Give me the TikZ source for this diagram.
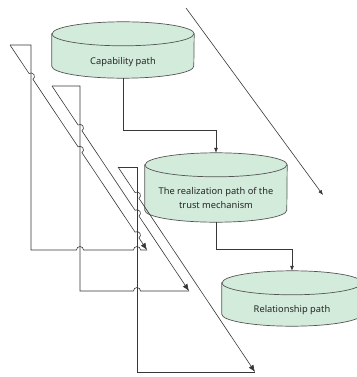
\documentclass[tikz,border=0pt]{standalone}
\usepackage{fontspec}
\setmainfont{Noto Sans}
\usetikzlibrary{arrows.meta,calc}

\definecolor{cylgreen}{RGB}{211,235,219}
\definecolor{edgegray}{RGB}{85,85,85}
\definecolor{linegray}{RGB}{55,55,55}

\tikzset{
  cylbox/.style={inner sep=0pt, draw=none},
  cyltext/.style={font=\fontsize{9.3}{14}\selectfont, text=black!85, align=center},
  cylshape/.style={fill=cylgreen, draw=edgegray, line width=0.7pt},
  link/.style={draw=linegray, line width=0.6pt},
  tip/.style={-{Latex[length=5pt,width=4pt]}},
  bigtip/.style={-{Latex[length=7pt,width=5.5pt]}},
}

% cylinder outline around an invisible box node: #1 node name, #2 x radius (pt)
\newcommand\cylinderat[2]{%
  \filldraw[cylshape] ([yshift=-12pt]#1.north west) -- ([yshift=12pt]#1.south west)
    arc[start angle=180, end angle=360, x radius=#2pt, y radius=12pt]
    -- ([yshift=-12pt]#1.north east)
    arc[start angle=0, end angle=180, x radius=#2pt, y radius=12pt] -- cycle;
  \draw[cylshape, fill=none] ([yshift=-12pt]#1.north west)
    arc[start angle=180, end angle=360, x radius=#2pt, y radius=12pt];
}

\begin{document}
\begin{tikzpicture}[x=1pt, y=-1pt]
  \useasboundingbox (0,0) rectangle (356,377);

  % cylinder boxes
  \node[cylbox, minimum width=142pt, minimum height=56pt] (cap)  at (123,50)   {};
  \node[cylbox, minimum width=142pt, minimum height=69pt] (real) at (216,187.5) {};
  \node[cylbox, minimum width=140pt, minimum height=55pt] (rel)  at (292,298.5) {};

  \cylinderat{cap}{71}
  \cylinderat{real}{71}
  \cylinderat{rel}{70}

  \node[cyltext] (cap-label)  at (123,62)  {Capability path};
  \node[cyltext] (real-label) at (216,198) {The realization path of the\\trust mechanism};
  \node[cyltext] (rel-label)  at (292,310) {Relationship path};

  % connectors between the cylinders
  \draw[link, tip] (cap.south) -- ++(0,52) -| (real.north);
  \draw[link, tip] (real.south) -- ++(0,27) -| (rel.north);

  % long diagonal arrow
  \coordinate (farstart) at (186,8);
  \coordinate (farend)   at (323,195);
  \draw[link, tip] (farstart) -- (farend);

  % corner points of the three bracket connectors
  \coordinate (aTL) at (10,45);   \coordinate (aTR) at (31,45);
  \coordinate (aBL) at (31,250);  \coordinate (aTip) at (147,250);
  \coordinate (bTL) at (52,86);   \coordinate (bTR) at (80,86);
  \coordinate (bBL) at (80,291);  \coordinate (bTip) at (189,291);
  \coordinate (cTL) at (118,167); \coordinate (cTR) at (137,167);
  \coordinate (cBL) at (137,372); \coordinate (cTip) at (255,372);

  % crossings of the diagonals with the verticals
  \coordinate (hA1) at (intersection of aTL--aTip and aTR--aBL);
  \coordinate (hA2) at (intersection of aTL--aTip and bTR--bBL);
  \coordinate (hA3) at (intersection of aTL--aTip and cTR--cBL);
  \coordinate (hB1) at (intersection of bTL--bTip and bTR--bBL);
  \coordinate (hB2) at (intersection of bTL--bTip and cTR--cBL);
  \coordinate (hC1) at (intersection of cTL--cTip and cTR--cBL);

  % bracket A
  \draw[link] (aTL) -- (aTR) -- (aBL)
    -- ($(bTR |- aBL)+(-3.5,0)$) arc[start angle=180, end angle=0, radius=3.5pt]
    -- ($(cTR |- aBL)+(-3.5,0)$) arc[start angle=180, end angle=0, radius=3.5pt]
    -- (aTip);
  \draw[link, bigtip] (aTL)
    -- ($(hA1)!3.5pt!(aTL)$) arc[start angle=123.75, end angle=-56.25, radius=3.5pt]
    -- ($(hA2)!3.5pt!(aTL)$) arc[start angle=123.75, end angle=-56.25, radius=3.5pt]
    -- ($(hA3)!3.5pt!(aTL)$) arc[start angle=123.75, end angle=-56.25, radius=3.5pt]
    -- (aTip);

  % bracket B
  \draw[link] (bTL) -- (bTR) -- (bBL)
    -- ($(cTR |- bBL)+(-3.5,0)$) arc[start angle=180, end angle=0, radius=3.5pt]
    -- (bTip);
  \draw[link, bigtip] (bTL)
    -- ($(hB1)!3.5pt!(bTL)$) arc[start angle=123.75, end angle=-56.25, radius=3.5pt]
    -- ($(hB2)!3.5pt!(bTL)$) arc[start angle=123.75, end angle=-56.25, radius=3.5pt]
    -- (bTip);

  % bracket C
  \draw[link] (cTL) -- (cTR) -- (cBL) -- (cTip);
  \draw[link, bigtip] (cTL)
    -- ($(hC1)!3.5pt!(cTL)$) arc[start angle=123.75, end angle=-56.25, radius=3.5pt]
    -- (cTip);
\end{tikzpicture}
\end{document}
